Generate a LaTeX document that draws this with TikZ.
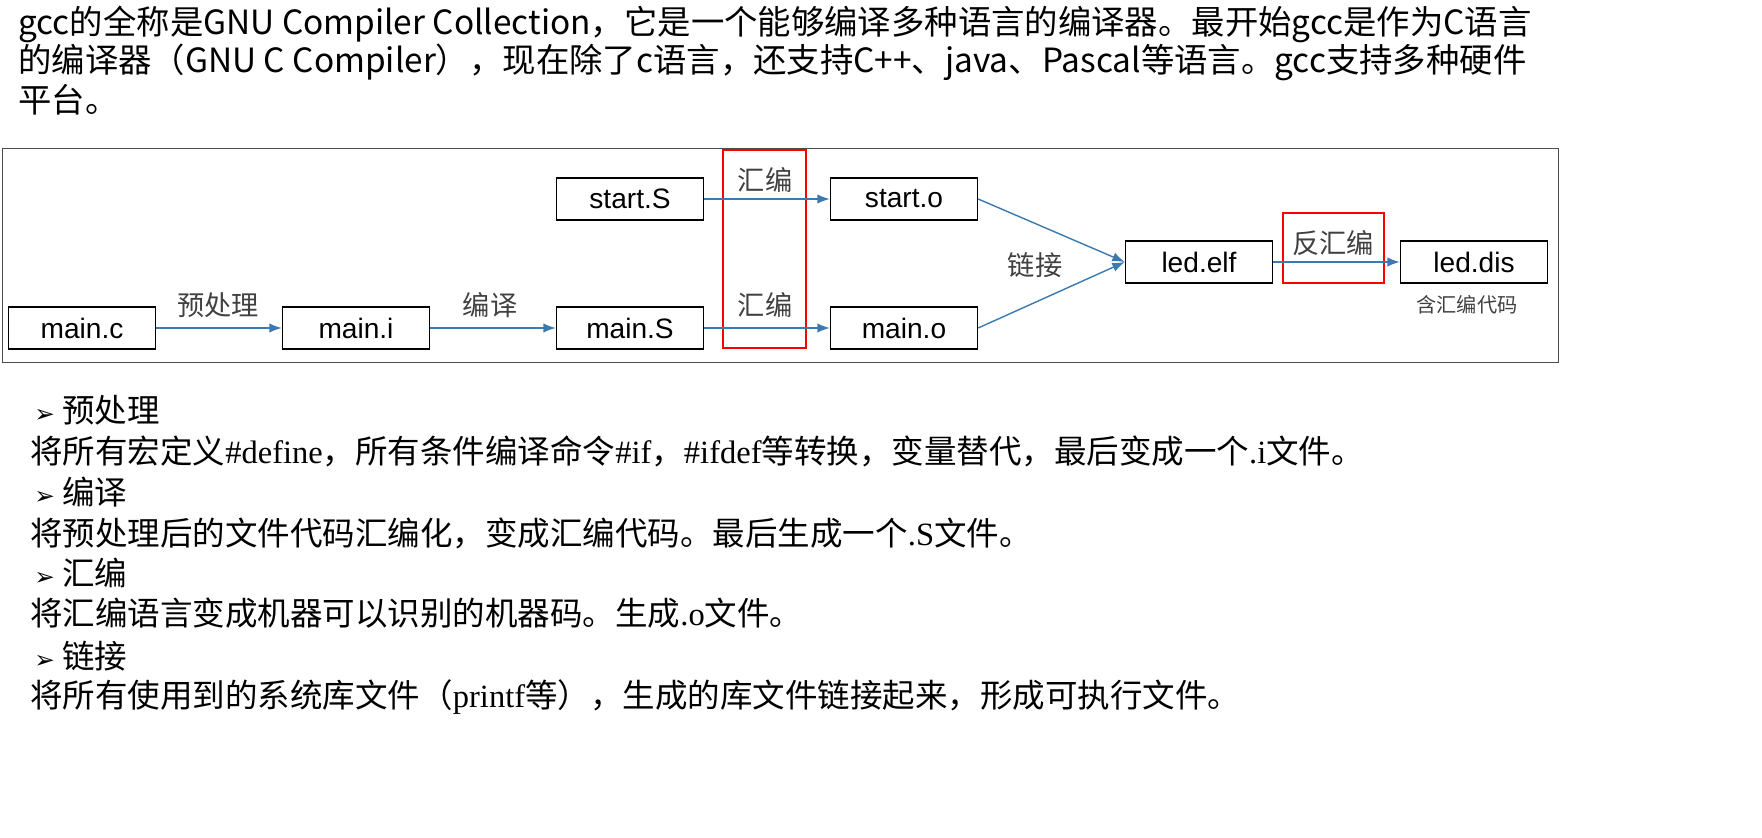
\documentclass[tikz,border=0pt]{standalone}
\usepackage{fontspec}
\setmainfont{Noto Sans CJK SC}
\newfontfamily\boxfont{Liberation Sans}
\newfontfamily\serif{Liberation Serif}
\newfontfamily\symb{DejaVu Sans}
\usepackage{tikz}
\usetikzlibrary{arrows.meta,positioning}
\definecolor{arrowblue}{HTML}{3A7AB0}
\newcommand{\bigtext}{\fontsize{19pt}{22pt}\selectfont}
\newcommand{\midtext}{\fontsize{15.5pt}{18pt}\selectfont}
\newcommand{\arrowmark}{{\symb\fontsize{14pt}{16pt}\selectfont ➢}}

\begin{document}
\begin{tikzpicture}[x=0.02cm,y=-0.02cm]
	\useasboundingbox (0,0) rectangle (1762,838);
	% intro text
	\begin{scope}[every node/.style={anchor=west,inner sep=0pt,font=\bigtext}]
		\node (l1) at (18,24) {gcc的全称是GNU Compiler Collection，它是一个能够编译多种语言的编译器。最开始gcc是作为C语言};
		\node (l2) at (18,62) {的编译器（GNU C Compiler），现在除了c语言，还支持C++、java、Pascal等语言。gcc支持多种硬件};
		\node (l3) at (18,100) {平台。};
	\end{scope}
	
	\draw[black!70] (2,148) rectangle (1558,362);
	\begin{scope}[every node/.style={rectangle,draw,thick,minimum height=0.84cm,minimum width=2.94cm,font=\boxfont\fontsize{16pt}{18pt}\selectfont}]
		\node (mainc) at (82,328) {main.c};
		\node (maini) at (356,328) {main.i};
		\node (mainS) at (630,328) {main.S};
		\node (maino) at (904,328) {main.o};
		\node (startS) at (630,199) {start.S};
		\node (starto) at (904,199) {start.o};
		\node (ledelf) at (1199,262) {led.elf};
		\node (leddis) at (1474,262) {led.dis};
	\end{scope}
	\draw[red,thick] (723,150) rectangle (806,348);
	\draw[red,thick] (1283,213) rectangle (1384,283);
	
	\begin{scope}[every node/.style={font=\midtext,text=black!75}]
		\node (pre) at (218,305) {预处理};
		\node (comp) at (490,305) {编译};
		\node (asm1) at (765,180) {汇编};
		\node (asm2) at (765,305) {汇编};
		\node (link) at (1035,265) {链接};
		\node (dis) at (1333,243) {反汇编};
		\node[font=\fontsize{11.5pt}{13pt}\selectfont] (note) at (1467,305) {含汇编代码};
	\end{scope}
	
	\begin{scope}[arrowblue,thick,-{Latex[length=2.5mm]}]
	\draw (mainc) -- (maini);
	\draw (maini) -- (mainS);
	\draw (mainS) -- (maino);
	\draw (startS) -- (starto);
	\draw (starto.east) -- (ledelf.west);
	\draw (maino.east) -- (ledelf.west);
	\draw (ledelf) -- (leddis);
	\end{scope}
	
	% explanations
	\begin{scope}[every node/.style={anchor=west,inner sep=0pt,font=\fontsize{18.5pt}{21pt}\selectfont}]
		\node (b1) at (34,410) {\arrowmark{} 预处理};
		\node (t1) at (30,451) {将所有宏定义{\serif\#define}，所有条件编译命令{\serif\#if}，{\serif\#ifdef}等转换，变量替代，最后变成一个{\serif .i}文件。};
		\node (b2) at (34,492) {\arrowmark{} 编译};
		\node (t2) at (30,533) {将预处理后的文件代码汇编化，变成汇编代码。最后生成一个{\serif .S}文件。};
		\node (b3) at (34,573) {\arrowmark{} 汇编};
		\node (t3) at (30,613) {将汇编语言变成机器可以识别的机器码。生成{\serif .o}文件。};
		\node (b4) at (34,656) {\arrowmark{} 链接};
		\node (t4) at (30,697) {将所有使用到的系统库文件（{\serif printf}等），生成的库文件链接起来，形成可执行文件。};
	\end{scope}
\end{tikzpicture}
\end{document}
